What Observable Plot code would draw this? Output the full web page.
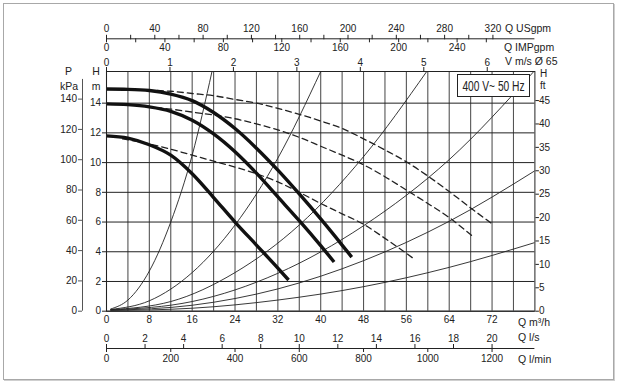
<!DOCTYPE html>
<html><head><meta charset="utf-8">
<script src="https://cdn.jsdelivr.net/npm/d3@7"></script>
<script src="https://cdn.jsdelivr.net/npm/@observablehq/plot@0.6"></script>
<style>
html,body{margin:0;padding:0;background:#fff;}
#wrap{position:relative;width:618px;height:384px;overflow:hidden;font-family:"Liberation Sans",Arial,sans-serif;color:#222;}
#border{position:absolute;left:3px;top:3px;width:609px;height:375px;border:1px solid #a8a8a8;box-shadow:1px 1px 0 #cfcfcf;}
#chart{position:absolute;left:0;top:0;}
.lbl{position:absolute;font-size:10.5px;line-height:11px;white-space:nowrap;}
.s{font-size:10px;line-height:10px;}
.c{text-align:center;}
#legend{position:absolute;left:457px;top:74px;width:73px;height:23px;box-sizing:border-box;border:1px solid #222;background:#fff;}
#legend svg{display:block;}
</style></head>
<body>
<div id="wrap">
  <div id="border"></div>
  <div id="chart"></div>
  <div class="lbl c" style="left:58px;width:21px;top:66px">P</div>
  <div class="lbl c" style="left:57px;width:24px;top:80.5px">kPa</div>
  <div class="lbl c" style="left:90px;width:12px;top:66px">H</div>
  <div class="lbl c" style="left:90px;width:12px;top:80.5px">m</div>
  <div class="lbl s" style="left:540px;top:68.5px">H</div>
  <div class="lbl s" style="left:540px;top:81px">ft</div>
  <div class="lbl" style="left:505px;top:22.5px">Q USgpm</div>
  <div class="lbl" style="left:504px;top:41.5px">Q IMPgpm</div>
  <div class="lbl" style="left:505px;top:56px">V m/s Ø 65</div>
  <div class="lbl" style="left:518px;top:317px">Q m³/h</div>
  <div class="lbl" style="left:518px;top:331.5px">Q l/s</div>
  <div class="lbl" style="left:518px;top:353.5px">Q l/min</div>
  <div id="legend"><svg width="71" height="21"><text transform="translate(35.5,16) scale(0.66,1)" text-anchor="middle" font-size="15.5" fill="#222" font-family="Liberation Sans, Arial, sans-serif">400 V~ 50 Hz</text></svg></div>
</div>
<script>
// ---- axis tick values ----
const qGrid = [0,4,8,12,16,20,24,28,32,36,40,44,48,52,56,60,64,68,72,76];
const qTicks = [0,8,16,24,32,40,48,56,64,72];
const hGrid = [0,2,4,6,8,10,12,14];
const hTicks = [0,2,4,6,8,10,12,14];
const kpaTicks = [0,20,40,60,80,100,120,140];
const ftTicks = [0,5,10,15,20,25,30,35,40,45];
const vTicks = [0,1,2,3,4,5,6];
const usTicks = [0,20,40,60,80,100,120,140,160,180,200,220,240,260,280,300,320];
const usLabels = [0,40,80,120,160,200,240,280,320];
const impTicks = [0,20,40,60,80,100,120,140,160,180,200,220,240,260];
const impLabels = [0,40,80,120,160,200,240];
const lsTicks = [0,2,4,6,8,10,12,14,16,18,20];
const lminTicks = [0,200,400,600,800,1000,1200];

// ---- unit conversions (to m³/h and m) ----
const KPA_PER_M = 9.81, M_PER_FT = 0.315, Q_PER_V = 11.85;
const Q_PER_US = 0.2255, Q_PER_IMP = 0.2728, Q_PER_LS = 3.6, Q_PER_LMIN = 0.06;
const Q_MAX = 80, H_MAX = 16.13, KPA_LINE_TOP = 153;

// ---- pump curves (Q m³/h, H m) ----
const pump1Q = [0,4,8,12,16,20,24,28,32,36,40,44,45.8];
const pump1H = [14.95,14.93,14.85,14.61,14.17,13.37,12.29,10.97,9.49,7.89,6.21,4.45,3.64];
const pump2Q = [0,4,8,12,16,20,24,28,32,36,40,42.5];
const pump2H = [13.95,13.9,13.75,13.45,12.85,11.93,10.73,9.29,7.69,6.09,4.41,3.31];
const pump3Q = [0,4,8,12,16,20,24,28,32,34];
const pump3H = [11.8,11.65,11.2,10.5,9.25,7.65,6.0,4.45,2.9,2.1];

// ---- dashed curves ----
const dash1Q = [9.5,12,16,20,24,28,32,36,40,44,48,52,56,60,64,68,72.3];
const dash1H = [14.85,14.8,14.65,14.5,14.25,14.0,13.65,13.25,12.8,12.3,11.6,10.85,10.05,9.1,8.05,6.95,5.8];
const dash2Q = [5.5,8,12,16,20,24,28,32,36,40,44,48,52,56,60,64,68.5];
const dash2H = [13.85,13.75,13.6,13.4,13.2,12.95,12.6,12.2,11.7,11.1,10.5,9.85,9.05,8.15,7.25,6.3,5.0];
const dash3Q = [3,8,12,16,20,24,28,32,36,40,44,48,52,55,57.5];
const dash3H = [11.6,11.25,10.9,10.5,10.1,9.7,9.25,8.7,8.0,7.25,6.55,5.85,4.9,4.15,3.5];

// ---- system curves ----
const sys1Q = [0.8,4,8,12,16,19.7];
const sys1H = [0.15,0.75,2.7,6.0,10.5,16.13];
const sys2Q = [0.8,8,16,24,32,40];
const sys2H = [0.12,0.7,2.6,5.8,10.3,16.13];
const sys3Q = [0.8,12,24,36,48,59.8];
const sys3H = [0.1,0.65,2.6,5.8,10.4,16.13];
const sys4Q = [0.8,16,32,48,64,79.8];
const sys4H = [0.08,0.65,2.55,5.75,10.2,16.13];
const sys5Q = [0.8,16,32,48,64,80];
const sys5H = [0.06,0.4,1.5,3.4,6.05,9.45];
const sys6Q = [0.8,16,32,48,64,80];
const sys6H = [0.04,0.2,0.75,1.65,2.95,4.62];

const pts = (qs, hs) => qs.map((q, i) => ({q, h: hs[i]}));
const sysCurves = [[sys1Q,sys1H],[sys2Q,sys2H],[sys3Q,sys3H],[sys4Q,sys4H],[sys5Q,sys5H],[sys6Q,sys6H]];
const dashCurves = [[dash1Q,dash1H],[dash2Q,dash2H],[dash3Q,dash3H]];
const pumpCurves = [[pump1Q,pump1H],[pump2Q,pump2H],[pump3Q,pump3H]];

const topLineDy = 38.3 - 71;      // gpm axis line offset
const botLineDy = 348 - 310.7;    // l/s axis line offset

const chart = Plot.plot({
  width: 618, height: 384,
  marginLeft: 106, marginRight: 618 - 534.4, marginTop: 71, marginBottom: 384 - 310.7,
  x: {domain: [0, Q_MAX], axis: null},
  y: {domain: [0, H_MAX], axis: null},
  style: {fontFamily: "Liberation Sans, Arial, sans-serif", fontSize: "10px", color: "#222", background: "transparent", overflow: "visible"},
  marks: [
    Plot.gridX(qGrid, {stroke: "#555", strokeOpacity: 1, strokeWidth: 1.1}),
    Plot.gridY(hGrid, {stroke: "#222", strokeOpacity: 1, strokeWidth: 1}),
    ...sysCurves.map(([qs, hs]) => Plot.line(pts(qs, hs), {x: "q", y: "h", curve: "monotone-x", stroke: "#222", strokeWidth: 0.9, clip: true})),
    ...dashCurves.map(([qs, hs]) => Plot.line(pts(qs, hs), {x: "q", y: "h", curve: "monotone-x", stroke: "#222", strokeWidth: 1.3, strokeDasharray: "6,4"})),
    ...pumpCurves.map(([qs, hs]) => Plot.line(pts(qs, hs), {x: "q", y: "h", curve: "monotone-x", stroke: "#111", strokeWidth: 3.4, strokeLinecap: "butt"})),
    Plot.frame({stroke: "#222", strokeWidth: 1}),
    // bottom Q m3/h
    Plot.axisX(qTicks, {anchor: "bottom", tickSize: 0, tickPadding: 5, label: null}),
    // left H m
    Plot.axisY(hTicks, {anchor: "left", tickSize: 4, tickPadding: 1.5, label: null}),
    // left kPa
    Plot.ruleX([0], {dx: -24, y1: 0, y2: KPA_LINE_TOP / KPA_PER_M, stroke: "#555"}),
    Plot.axisY(kpaTicks.map(k => k / KPA_PER_M), {anchor: "left", tickSize: 4, tickPadding: 1.5, dx: -24, tickFormat: d => String(Math.round(d * KPA_PER_M)), label: null, stroke: "#555"}),
    // right H ft
    Plot.axisY(ftTicks.map(f => f * M_PER_FT), {anchor: "right", tickSize: 3.5, tickPadding: 0.5, tickFormat: d => String(Math.round(d / M_PER_FT)), label: null}),
    // top V m/s
    Plot.axisX(vTicks.map(v => v * Q_PER_V), {anchor: "top", tickSize: 5, tickPadding: 1, tickFormat: d => String(Math.round(d / Q_PER_V)), label: null}),
    // gpm axis line
    Plot.ruleY([H_MAX], {dy: topLineDy, stroke: "#222"}),
    Plot.axisX(usTicks.map(u => u * Q_PER_US), {anchor: "top", dy: topLineDy, tickSize: 4.5, tickPadding: 2, tickFormat: d => { const u = Math.round(d / Q_PER_US); return usLabels.includes(u) ? String(u) : ""; }, label: null}),
    Plot.axisX(impTicks.map(u => u * Q_PER_IMP), {anchor: "bottom", dy: 38.3 - 310.7, tickSize: 4, tickPadding: 1.5, tickFormat: d => { const u = Math.round(d / Q_PER_IMP); return impLabels.includes(u) ? String(u) : ""; }, label: null}),
    // l/s and l/min
    Plot.ruleY([0], {dy: botLineDy, stroke: "#222"}),
    Plot.axisX(lsTicks.map(u => u * Q_PER_LS), {anchor: "top", dy: 348 - 71, tickSize: 5, tickPadding: 2, tickFormat: d => String(Math.round(d / Q_PER_LS)), label: null}),
    Plot.axisX(lminTicks.map(u => u * Q_PER_LMIN), {anchor: "bottom", dy: botLineDy, tickSize: 4, tickPadding: 2, tickFormat: d => String(Math.round(d / Q_PER_LMIN)), label: null})
  ]
});
document.getElementById("chart").appendChild(chart);
</script>
</body></html>
